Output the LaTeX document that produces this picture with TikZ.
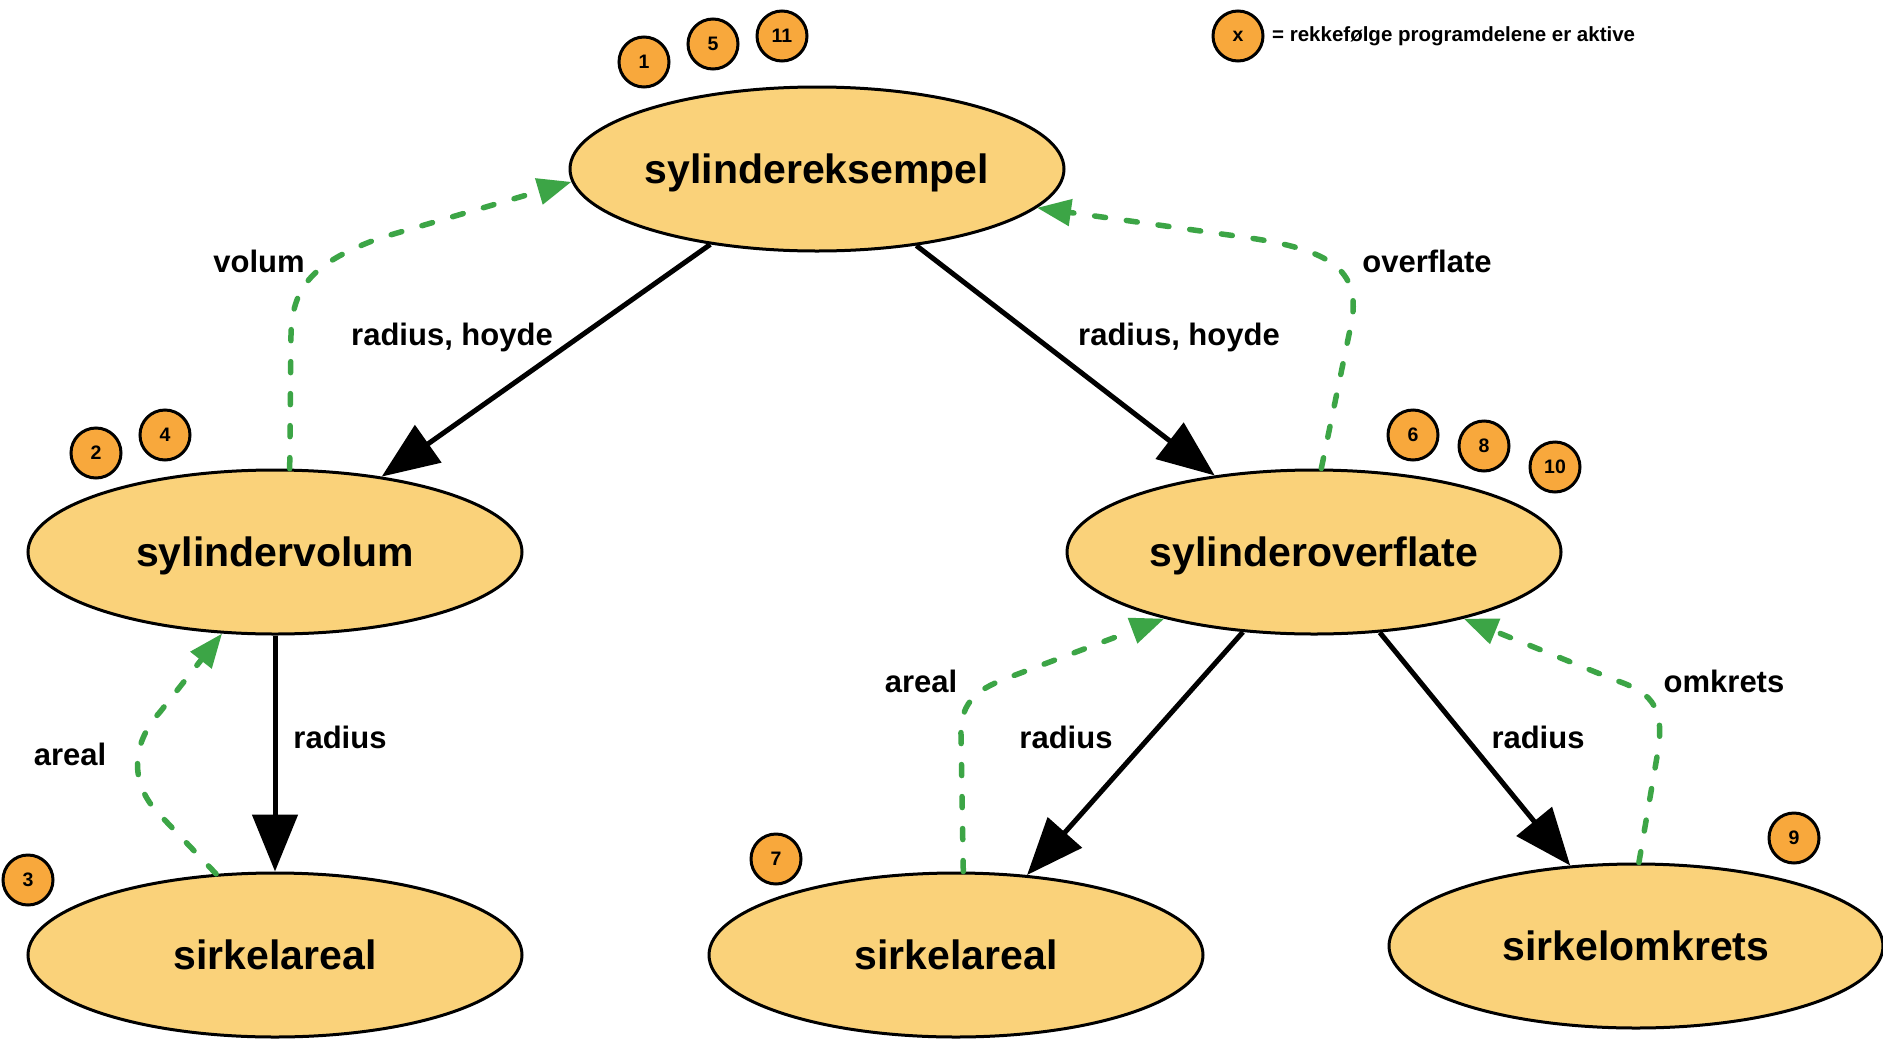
\documentclass[tikz,border=0pt]{standalone}
\usepackage{fontspec}
\setmainfont{Liberation Sans}
\usetikzlibrary{shapes.geometric,arrows.meta}
\definecolor{ellfill}{HTML}{FAD27A}
\definecolor{numfill}{HTML}{F8A83C}
\definecolor{greenline}{HTML}{3CA546}
\tikzset{
  bubble/.style={ellipse, draw=black, line width=3pt, fill=ellfill, minimum width=494pt, minimum height=164pt, inner sep=0pt,
    text depth=0pt, font=\fontsize{41}{41}\selectfont\bfseries},
  numdot/.style={circle, draw=black, line width=3pt, fill=numfill, minimum size=50pt, inner sep=0pt,
    font=\fontsize{19.5}{19.5}\selectfont\bfseries},
  elabel/.style={font=\fontsize{31}{31}\selectfont\bfseries, inner sep=0pt, text depth=0pt},
  callarrow/.style={line width=5pt, -{Triangle[length=57pt,width=45pt]}},
  retarrow/.style={greenline, line width=5.5pt, line cap=round, dash pattern=on 11pt off 21pt,
    -{Triangle[length=34pt,width=26pt]}},
}
\begin{document}
\begin{tikzpicture}[x=1pt,y=-1pt]
\useasboundingbox (0,0) rectangle (1883,1039);
\fill[white] (0,0) rectangle (1883,1039);

% main nodes
\node[bubble] (se) at (817,169) {sylindereksempel};
\node[bubble] (sv) at (275,552) {sylindervolum};
\node[bubble] (so) at (1314,552) {sylinderoverflate};
\node[bubble] (sa1) at (275,955) {sirkelareal};
\node[bubble] (sa2) at (956,955) {sirkelareal};
\node[bubble] (sk) at (1636,946) {sirkelomkrets};

% call arrows
\draw[callarrow] (se) -- (sv);
\draw[callarrow] (se) -- (so);
\draw[callarrow] (sv) -- (sa1);
\draw[callarrow] (so) -- (sa2);
\draw[callarrow] (so) -- (sk);

% return arrows
\draw[retarrow] (sv.80) -- (291,335) .. controls (292,285) and (315,262) .. (380,238) -- (se.183);
\draw[retarrow] (so.85) -- (1352,320) .. controls (1360,270) and (1330,250) .. (1250,238) -- (se.350);
\draw[retarrow] (sa1.126) -- (160,815) .. controls (130,785) and (130,745) .. (160,712) -- (sv.237);
\draw[retarrow] (sa2.85) -- (961,735) .. controls (960,700) and (980,688) .. (1010,677) -- (so.204);
\draw[retarrow] (sk.88) -- (1659,745) .. controls (1663,705) and (1650,692) .. (1615,680) -- (so.336);

% edge labels
\node[elabel] (lvolum) at (259,261) {volum};
\node[elabel] (lrh1) at (452,334) {radius, hoyde};
\node[elabel] (lrh2) at (1179,334) {radius, hoyde};
\node[elabel] (loverflate) at (1427,261) {overflate};
\node[elabel] (lareal1) at (70,754) {areal};
\node[elabel] (lradius1) at (340,737) {radius};
\node[elabel] (lareal2) at (921,681) {areal};
\node[elabel] (lradius2) at (1066,737) {radius};
\node[elabel] (lradius3) at (1538,737) {radius};
\node[elabel] (lomkrets) at (1724,681) {omkrets};

% order numbers
\node[numdot] (n1) at (644,62) {1};
\node[numdot] (n5) at (713,44) {5};
\node[numdot] (n11) at (782,36) {11};
\node[numdot] (n2) at (96,453) {2};
\node[numdot] (n4) at (165,435) {4};
\node[numdot] (n3) at (28,880) {3};
\node[numdot] (n6) at (1413,435) {6};
\node[numdot] (n8) at (1484,446) {8};
\node[numdot] (n10) at (1555,467) {10};
\node[numdot] (n7) at (776,859) {7};
\node[numdot] (n9) at (1794,838) {9};

% legend
\node[numdot] (nx) at (1238,36) {x};
\node[anchor=west, inner sep=0pt, font=\fontsize{20.5}{20.5}\selectfont\bfseries] (legend) at (1272,36) {= rekkefølge programdelene er aktive};
\end{tikzpicture}
\end{document}
